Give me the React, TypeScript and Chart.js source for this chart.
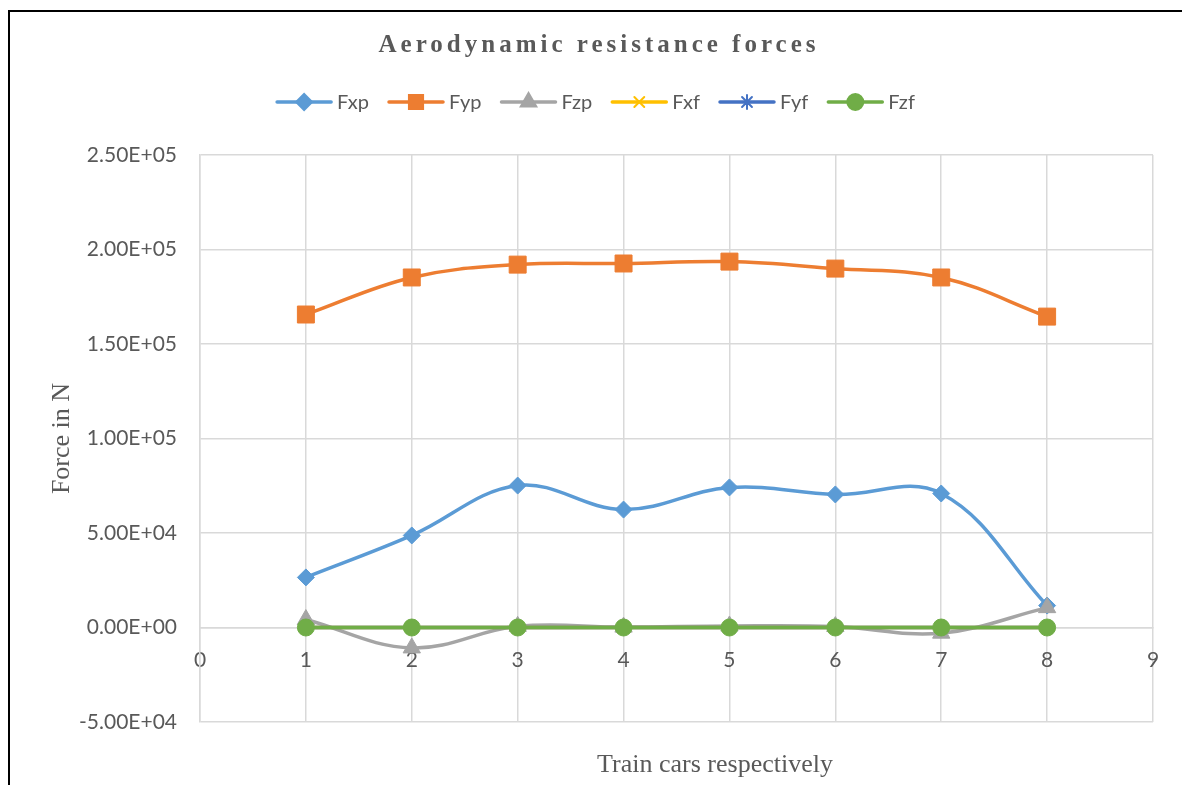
import React, { useEffect, useRef } from 'react';
import { Chart, registerables } from 'chart.js';
import { drawPoint } from 'chart.js/helpers';

Chart.register(...registerables);

// ---------- data ----------
const cars = [1, 2, 3, 4, 5, 6, 7, 8];
const seriesNames = ['Fxp', 'Fyp', 'Fzp', 'Fxf', 'Fyf', 'Fzf'];
const fxp = [26500, 48700, 75100, 62400, 74100, 70400, 70900, 11600];
const fyp = [165600, 185200, 192000, 192600, 193600, 189900, 185200, 164500];
const fzp = [4200, -10800, 600, 200, 800, 500, -3000, 10500];
const fxf = [0, 0, 0, 0, 0, 0, 0, 0];
const fyf = [0, 0, 0, 0, 0, 0, 0, 0];
const fzf = [0, 0, 0, 0, 0, 0, 0, 0];
const seriesValues = [fxp, fyp, fzp, fxf, fyf, fzf];
const yTickValues = [-50000, 0, 50000, 100000, 150000, 200000, 250000];
const xTickValues = [0, 1, 2, 3, 4, 5, 6, 7, 8, 9];

const titleText = 'Aerodynamic resistance forces';
const xTitleText = 'Train cars respectively';
const yTitleText = 'Force in N';

// ---------- styles ----------
const colors = ['#5B9BD5', '#ED7D31', '#A5A5A5', '#FFC000', '#4472C4', '#70AD47'];
const pointStyles = ['rectRot', 'rect', 'triangle', 'crossRot', 'star', 'circle'];
const pointRadii = [8.5, 12, 10, 8, 8, 8.5];
const legendRadii = [8, 10, 9, 7, 7, 8];
const textColor = '#595959';
const gridColor = '#D9D9D9';
const sansFamily = 'Lato, "Noto Sans", sans-serif';
const serifFamily = '"Liberation Serif", "Times New Roman", serif';

function fmtExp(v: number): string {
  const s = Number(v).toExponential(2); // e.g. 2.50e+5
  const [mant, exp] = s.split('e');
  const sign = exp[0] === '-' ? '-' : '+';
  const digits = exp.replace(/^[+-]/, '').padStart(2, '0');
  return `${mant}E${sign}${digits}`;
}

const overlayPlugin = {
  id: 'overlayTexts',
  afterDraw(chart: any) {
    const ctx = chart.ctx as CanvasRenderingContext2D;
    const W = chart.width;
    ctx.save();
    // Title
    ctx.fillStyle = textColor;
    ctx.font = `bold 25px ${serifFamily}`;
    (ctx as any).letterSpacing = '4px';
    ctx.textAlign = 'center';
    ctx.textBaseline = 'middle';
    ctx.fillText(titleText, 589, 34);
    (ctx as any).letterSpacing = '0px';

    // Legend
    ctx.font = `20px ${sansFamily}`;
    const lineLen = 54;
    const gapText = 6;
    const gapItem = 20;
    const widths = seriesNames.map((n) => ctx.measureText(n).width);
    const total =
      widths.reduce((a, w) => a + lineLen + gapText + w, 0) + gapItem * (seriesNames.length - 1);
    let x = (W - total) / 2;
    const y = 90;
    seriesNames.forEach((name, i) => {
      ctx.strokeStyle = colors[i];
      ctx.lineWidth = 3.5;
      ctx.lineCap = 'round';
      ctx.beginPath();
      ctx.moveTo(x, y);
      ctx.lineTo(x + lineLen, y);
      ctx.stroke();
      ctx.fillStyle = colors[i];
      ctx.strokeStyle = colors[i];
      ctx.lineWidth = 2;
      drawPoint(ctx, { pointStyle: pointStyles[i] as any, radius: legendRadii[i], rotation: 0, borderWidth: 2 } as any, x + lineLen / 2, y);
      ctx.fillStyle = textColor;
      ctx.textAlign = 'left';
      ctx.textBaseline = 'middle';
      ctx.fillText(name, x + lineLen + gapText, y + 1);
      x += lineLen + gapText + widths[i] + gapItem;
    });

    // X axis title
    ctx.font = `26px ${serifFamily}`;
    ctx.fillStyle = textColor;
    ctx.textAlign = 'center';
    ctx.textBaseline = 'middle';
    ctx.fillText(xTitleText, 705, 753);
    ctx.restore();
  },
};

export default function App() {
  const canvasRef = useRef<HTMLCanvasElement | null>(null);

  useEffect(() => {
    if (!canvasRef.current) return;
    const datasets = seriesNames.map((name, i) => ({
      label: name,
      data: cars.map((c, j) => ({ x: c, y: seriesValues[i][j] })),
      borderColor: colors[i],
      backgroundColor: colors[i],
      borderWidth: 3.5,
      pointStyle: pointStyles[i],
      pointRadius: pointRadii[i],
      pointBorderWidth: i === 3 || i === 4 ? 2 : 1,
      pointBorderColor: colors[i],
      pointBackgroundColor: colors[i],
      tension: 0.38,
      fill: false,
      clip: false as any,
      order: seriesNames.length - i,
    }));

    const chart = new Chart(canvasRef.current, {
      type: 'line',
      data: { datasets },
      plugins: [overlayPlugin],
      options: {
        responsive: false,
        animation: false,
        parsing: false as any,
        layout: { padding: { top: 143, left: 20, right: 29, bottom: 63 } },
        plugins: {
          legend: { display: false },
          title: { display: false },
          tooltip: { enabled: false },
        },
        scales: {
          x: {
            type: 'linear',
            position: { y: 0 } as any,
            min: xTickValues[0],
            max: xTickValues[xTickValues.length - 1],
            afterBuildTicks: (scale: any) => {
              scale.ticks = xTickValues.map((v) => ({ value: v }));
            },
            ticks: {
              stepSize: 1,
              padding: 20,
              color: textColor,
              font: { family: sansFamily, size: 21 },
              callback: (v: any) => String(v),
            },
            grid: { color: gridColor, lineWidth: 1.5, drawTicks: false },
            border: { color: gridColor, width: 1.5 },
          },
          y: {
            type: 'linear',
            position: 'left',
            min: yTickValues[0],
            max: yTickValues[yTickValues.length - 1],
            afterBuildTicks: (scale: any) => {
              scale.ticks = yTickValues.map((v) => ({ value: v }));
            },
            afterFit: (scale: any) => {
              scale.width = 170;
            },
            ticks: {
              stepSize: 50000,
              padding: 23,
              color: textColor,
              font: { family: sansFamily, size: 21 },
              callback: (v: any) => fmtExp(Number(v)),
            },
            grid: { color: gridColor, lineWidth: 1.5, drawTicks: false },
            border: { color: gridColor, width: 1.5 },
            title: {
              display: true,
              text: yTitleText,
              color: textColor,
              font: { family: serifFamily, size: 26 },
              padding: { top: 17, bottom: 0 },
            },
          },
        },
      },
    });
    return () => chart.destroy();
  }, []);

  return (
    <div
      style={{
        position: 'fixed',
        left: 8,
        top: 10,
        width: 1174,
        height: 775,
        borderLeft: '2px solid #000',
        borderTop: '2px solid #000',
        background: '#fff',
      }}
    >
      <canvas ref={canvasRef} width={1172} height={773} style={{ display: 'block' }} />
    </div>
  );
}
